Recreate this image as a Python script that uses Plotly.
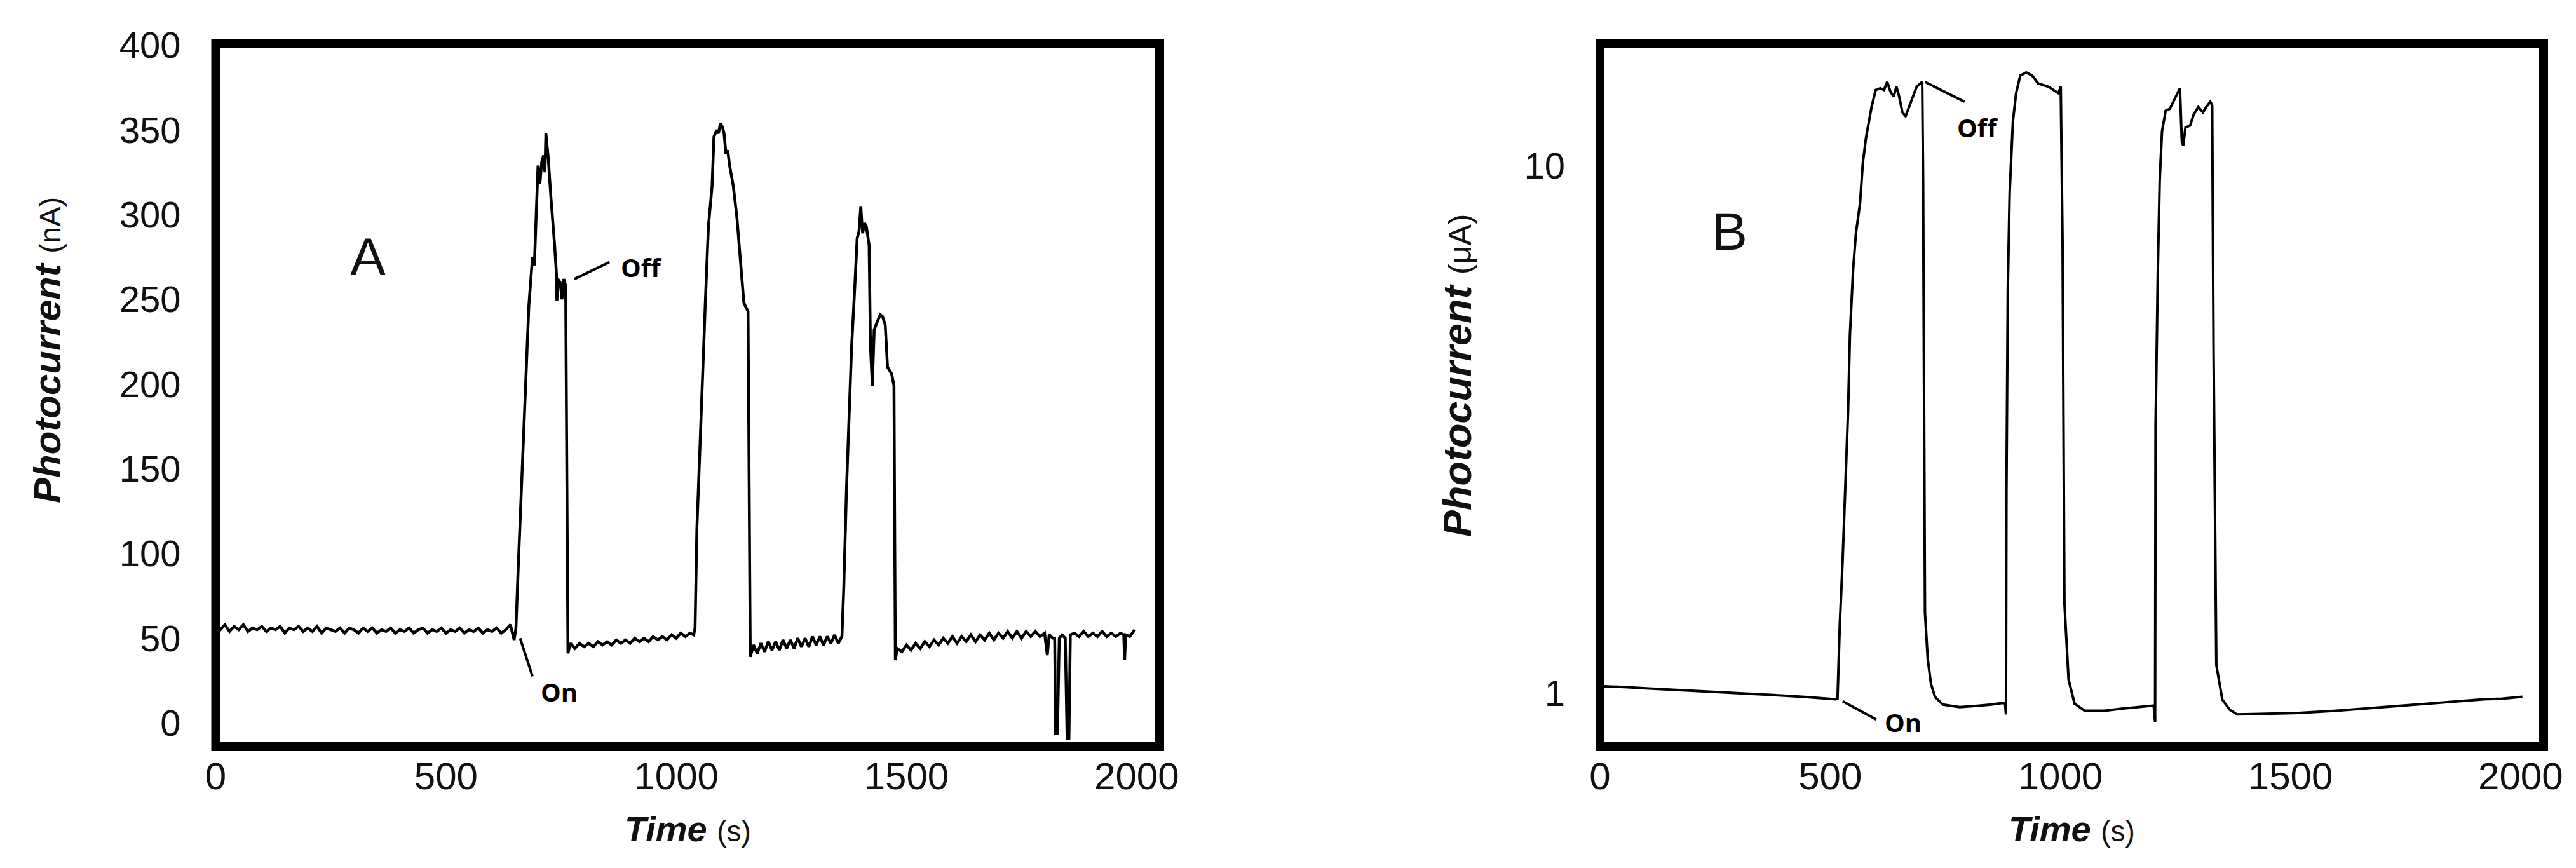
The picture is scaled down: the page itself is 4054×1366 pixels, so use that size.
import plotly.graph_objects as go
import numpy as np

W, H = 4054, 1366

# panel A: photocurrent (nA) vs time (s)
time_a = [
    0, 10, 20, 30, 40, 50, 60, 70, 80, 90,
    100, 110, 120, 130, 140, 150, 160, 170, 180, 190,
    200, 210, 220, 230, 240, 250, 260, 270, 280, 290,
    300, 310, 320, 330, 340, 350, 360, 370, 380, 390,
    400, 410, 420, 430, 440, 450, 460, 470, 480, 490,
    500, 510, 520, 530, 540, 550, 560, 570, 580, 590,
    600, 610, 620, 630, 640,
    648, 652, 657, 665, 673, 680, 688, 692, 696, 700, 704, 708, 712, 715, 717,
    720, 722, 728, 733, 736, 740, 741, 743, 748, 752, 756, 760, 763, 765, 770,
    780, 790, 800, 810, 820, 830, 840, 850, 860, 870,
    880, 890, 900, 910, 920, 930, 940, 950, 960, 970,
    980, 990, 1000, 1010, 1020, 1030, 1038,
    1041, 1045, 1050, 1056, 1063, 1070, 1078, 1082, 1088, 1092, 1096, 1100,
    1104, 1108, 1112, 1116, 1124, 1132, 1139, 1147, 1152, 1156, 1160, 1161,
    1168, 1176, 1184, 1192, 1200, 1208, 1216, 1224, 1232, 1240,
    1248, 1256, 1264, 1272, 1280, 1288, 1296, 1304, 1312, 1320,
    1328, 1336, 1344, 1352, 1360,
    1364, 1370, 1376, 1381, 1388, 1393, 1397, 1401, 1403, 1405, 1409, 1413, 1419,
    1422, 1426, 1430, 1437, 1443, 1448, 1454, 1459, 1464, 1468, 1473, 1476,
    1480, 1490, 1500, 1510, 1520, 1530, 1540, 1550, 1560, 1570,
    1580, 1590, 1600, 1610, 1620, 1630, 1640, 1650, 1660, 1670,
    1680, 1690, 1700, 1710, 1720, 1730, 1740, 1750, 1760, 1770,
    1780, 1790, 1800, 1806, 1810, 1818,
    1822, 1824, 1828, 1832, 1838, 1845, 1849, 1853, 1856,
    1865, 1875, 1885, 1895, 1905, 1915, 1925, 1935, 1945, 1955, 1965, 1972, 1974, 1976, 1985, 1996,
]
current_a = [
    57, 55, 58, 54, 57, 55, 58, 54, 56, 55,
    57, 54, 56, 55, 57, 53, 56, 55, 57, 54,
    56, 54, 57, 53, 56, 55, 54, 56, 53, 56,
    55, 53, 56, 54, 56, 53, 55, 54, 56, 53,
    55, 54, 56, 53, 55, 56, 53, 55, 54, 56,
    53, 55, 54, 56, 53, 55, 54, 56, 53, 55,
    54, 56, 53, 55, 58,
    49, 56, 92, 151, 199, 246, 275, 270, 303, 329, 318, 331, 335, 325, 348,
    340, 334, 310, 295, 282, 265, 249, 262, 260, 250, 262, 258, 156, 41, 47,
    44, 47, 45, 47, 45, 48, 46, 48, 46, 49,
    47, 49, 47, 50, 48, 50, 48, 51, 49, 51,
    49, 52, 50, 53, 51, 53, 52,
    56, 115, 151, 199, 246, 293, 317, 346, 350, 348, 354, 352,
    348, 336, 338, 329, 317, 298, 275, 248, 245, 243, 77, 39,
    46, 41, 47, 42, 48, 43, 48, 43, 49, 44,
    49, 44, 50, 45, 50, 45, 51, 46, 51, 46,
    51, 47, 52, 47, 51,
    80, 139, 187, 222, 258, 286, 290, 305, 296, 289, 295, 293, 282,
    222, 199, 232, 237, 241, 240, 235, 210, 208, 206, 199, 37,
    44, 42, 46, 43, 47, 44, 48, 45, 49, 46,
    50, 47, 51, 47, 51, 48, 52, 48, 52, 49,
    53, 49, 53, 50, 54, 50, 54, 50, 54, 51,
    54, 51, 53, 40, 52, 50,
    50, -6, -6, 50, 52, 50, -9, -9, 52,
    53, 51, 54, 51, 53, 51, 54, 51, 53, 51, 53, 52, 37, 52, 51, 55,
]

# panel B: photocurrent (uA, log axis) vs time (s)
time_b = [
    0, 30, 60, 100, 150, 200, 250, 300, 350, 400, 450, 500, 512, 516,
    517, 521, 527, 533, 539, 543, 550, 556, 565, 571, 578, 590, 599, 609,
    617, 624, 631, 638, 644, 650, 657, 664, 675, 688, 700,
    702, 706, 712, 719, 728, 745, 781, 820, 850, 880, 882,
    883, 886, 890, 897, 904, 913, 926, 939, 952, 974, 996, 1001,
    1005, 1009, 1018, 1031, 1053, 1097, 1133, 1180, 1203, 1206,
    1207, 1212, 1216, 1221, 1229, 1238, 1251, 1260, 1264, 1267, 1272, 1282,
    1290, 1300, 1310, 1317, 1326, 1330,
    1333, 1339, 1352, 1368, 1384, 1450, 1518, 1600, 1685, 1760, 1853, 1920, 1960, 2004,
]
current_b = [
    1.03, 1.028, 1.025, 1.02, 1.015, 1.01, 1.005, 1.0, 0.993, 0.988, 0.982, 0.976, 0.972, 0.975,
    1.06, 1.35, 1.77, 2.46, 3.43, 4.78, 6.37, 7.43, 8.49, 10.1, 11.3, 12.9, 13.9, 14.0,
    13.9, 14.4, 13.8, 13.5, 14.1, 13.5, 12.6, 12.4, 13.2, 14.1, 14.4,
    9.3, 1.42, 1.16, 1.04, 0.982, 0.95, 0.94, 0.945, 0.95, 0.958, 0.91,
    2.4, 5.83, 8.87, 12.1, 13.7, 14.8, 15.0, 14.8, 14.3, 14.1, 13.7, 14.1,
    7.1, 1.48, 1.06, 0.954, 0.925, 0.925, 0.933, 0.94, 0.946, 0.88,
    3.2, 6.37, 9.38, 11.6, 12.7, 12.8, 13.5, 14.0, 11.1, 10.9, 11.8, 11.9,
    12.5, 12.9, 12.6, 12.9, 13.2, 13.0,
    4.47, 1.13, 0.971, 0.929, 0.91, 0.912, 0.916, 0.925, 0.938, 0.95, 0.962, 0.972, 0.975, 0.983,
]

x_ticks = [0, 500, 1000, 1500, 2000]
y_ticks_a = [0, 50, 100, 150, 200, 250, 300, 350, 400]
y_ticks_b = [1, 10]

# (panel, label, label x, label y, line x0, y0, x1, y1)
callouts = [
    ("A", "Off", 925, 269, 779, 262, 855, 272),
    ("A", "On", 746, 18.6, 661, 50, 688, 27.5),
    ("B", "Off", 821, 11.8, 706, 14.4, 792, 13.2),
    ("B", "On", 659, 0.88, 527, 0.964, 600, 0.89),
]

TICK_FONT = "Liberation Sans, Arial, sans-serif"
INK = "#111111"


def fx(px):
    return px / W


def fy(py):
    return 1 - py / H


def ann_y(panel, v):
    # annotations on a log axis take log10 values (shapes take raw data)
    return np.log10(v) if panel == "B" else v


fig = go.Figure()
fig.add_trace(go.Scatter(x=time_a, y=current_a, mode="lines",
                         line=dict(color="black", width=4.5), xaxis="x", yaxis="y"))
fig.add_trace(go.Scatter(x=time_b, y=current_b, mode="lines",
                         line=dict(color="black", width=4), xaxis="x2", yaxis="y2"))

ydom = [fy(1167), fy(60.5)]
xcommon = dict(range=[0, 2050], tickvals=x_ticks, showgrid=False, zeroline=False, showline=False,
               automargin=False, ticks="", ticklabelstandoff=6,
               tickfont=dict(family=TICK_FONT, size=60, color=INK))
ycommon = dict(showgrid=False, zeroline=False, showline=False, automargin=False, ticks="",
               ticklabelstandoff=54, tickfont=dict(family=TICK_FONT, size=58, color=INK))

fig.update_layout(
    width=W, height=H, showlegend=False,
    margin=dict(l=0, r=0, t=0, b=0, pad=0, autoexpand=False),
    paper_bgcolor="white", plot_bgcolor="white",
    xaxis=dict(domain=[fx(331.5), fx(1817)], anchor="y", **xcommon),
    yaxis=dict(domain=ydom, anchor="x", range=[-14, 401], tickvals=y_ticks_a, **ycommon),
    xaxis2=dict(domain=[fx(2510), fx(3995)], anchor="y2", **xcommon),
    yaxis2=dict(domain=ydom, anchor="x2", type="log", range=[-0.102, 1.231],
                tickvals=y_ticks_b, ticktext=[str(v) for v in y_ticks_b], **ycommon),
)

# thick frame around each plot area
for xr, yr in [("x", "y"), ("x2", "y2")]:
    fig.add_shape(type="rect", xref=f"{xr} domain", yref=f"{yr} domain", x0=0, x1=1, y0=0, y1=1,
                  line=dict(color="black", width=14), layer="above")

# panel letters
fig.add_annotation(x=330, y=275, xref="x", yref="y", text="A", showarrow=False,
                   font=dict(family=TICK_FONT, size=84, color=INK))
fig.add_annotation(x=281, y=np.log10(7.5), xref="x2", yref="y2", text="B", showarrow=False,
                   font=dict(family=TICK_FONT, size=84, color=INK))

# On / Off markers
for panel, label, tx, ty, x0, y0, x1, y1 in callouts:
    xr, yr = ("x", "y") if panel == "A" else ("x2", "y2")
    fig.add_shape(type="line", xref=xr, yref=yr, x0=x0, x1=x1, y0=y0, y1=y1,
                  line=dict(color="black", width=4))
    fig.add_annotation(x=tx, y=ann_y(panel, ty), xref=xr, yref=yr, text=f"<b>{label}</b>",
                       showarrow=False, font=dict(family="Open Sans, sans-serif", size=40, color="black"))


def unit_span(size):
    style = f"font-family:Liberation Sans, Arial;font-weight:normal;font-style:normal;font-size:{size}px"
    return f"<span style='{style}'>"


# axis titles
for cx, unit in [(1074, "s"), (3252, "s")]:
    fig.add_annotation(x=fx(cx), y=fy(1296), xref="paper", yref="paper", showarrow=False,
                       xanchor="center", yanchor="middle",
                       text=f"<b><i>Time</i></b> {unit_span(46)}({unit})</span>",
                       font=dict(family=TICK_FONT, size=56, color=INK))
for cx, cy, unit, size, usize in [(66, 543, "nA", 60, 47), (2285, 583, "μA", 63, 50)]:
    fig.add_annotation(x=fx(cx), y=fy(cy), xref="paper", yref="paper", showarrow=False, textangle=-90,
                       xanchor="center", yanchor="middle",
                       text=f"<b><i>Photocurrent</i></b> {unit_span(usize)}({unit})</span>",
                       font=dict(family=TICK_FONT, size=size, color=INK))

fig.write_html("out.html")
